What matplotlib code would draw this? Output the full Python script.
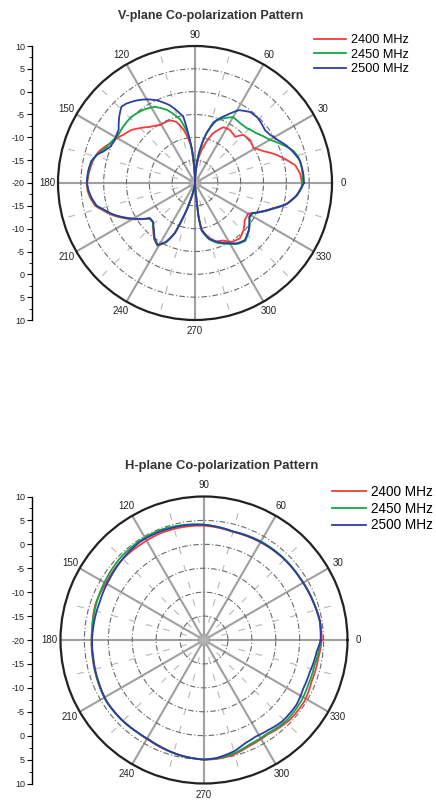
import numpy as np
import matplotlib
matplotlib.use('Agg')
import matplotlib.pyplot as plt

plt.rcParams['font.family'] = ['Liberation Sans', 'DejaVu Sans']

# ---- data (angle in deg, gain in dB) ----
labels = ['2400 MHz', '2450 MHz', '2500 MHz']
colors = ['#F23C3C', '#12A845', '#2E3DA3']

# V-plane
v_red_ang = [0, 5, 10, 14, 19, 25, 31, 38, 45, 49, 57, 63, 70, 77, 82, 86, 89, 92, 96,
             102, 107, 112, 121, 129, 135, 140, 146, 150, 155, 159, 162, 167, 174, 180,
             184, 188, 193, 196, 201, 207, 213, 218, 223, 229, 234, 239, 244, 248, 251,
             255, 260, 266, 272, 275, 276, 278, 284, 290, 296, 302, 309, 316, 323, 330,
             336, 342, 347, 353, 358, 360]
v_red_db = [3.4, 3.1, 2.3, 0.7, -1.1, -3.5, -5.1, -4.7, -5.1, -6.6, -6.1, -6.3, -8.4, -11.8,
            -14.5, -18, -20, -19, -12, -8.1, -6.0, -5.2, -5.2, -4.2, -3.0, -1.9, -1.1, -0.3,
            0.5, 1.5, 2.2, 2.8, 3.3, 3.6,
            3.6, 3.2, 2.4, 1.2, -0.5, -2.9, -5.4, -7.4, -7.4, -6.1, -4.8, -4.0, -5.6, -8.1,
            -12.0, -16, -19, -20, -20, -17, -13, -9.8, -7.7, -6.4, -6.0, -4.8, -4.4, -5.2,
            -6.4, -6.6, -4.5, -2.1, 0.5, 2.4, 3.4, 3.4]

v_green_ang = [0, 8, 14, 18, 23, 30, 39, 47, 53, 60, 66, 73, 79, 83, 87, 90, 93, 97, 103,
               111, 118, 125, 134, 142, 148, 152, 158, 163, 168, 174, 180,
               184, 188, 193, 196, 201, 207, 213, 218, 223, 229, 234, 239, 244, 248, 251,
               255, 260, 266, 272, 275, 276, 278, 284, 290, 298, 305, 311, 319, 328, 332,
               336, 342, 347, 353, 358, 360]
v_green_db = [3.6, 3.6, 3.35, 2.7, 1.1, -1.1, -2.7, -3.5, -3.6, -3.35, -4.5, -6.0, -10.4,
              -14, -18, -20, -17, -10, -5.8, -2.85, -1.1, -0.4, 0.1, 0.0, -0.2, 0.2, 0.9,
              2.1, 3.1, 3.5, 3.7,
              3.4, 3.0, 2.2, 1.0, -0.7, -3.1, -5.5, -7.4, -7.4, -6.2, -4.9, -4.1, -5.6,
              -8.1, -12.0, -16, -19, -20, -20, -17, -12.4, -9.4, -7.3, -6.1, -4.9, -3.7,
              -3.2, -4.3, -5.9, -5.8, -4.3, -1.9, 0.6, 2.5, 3.5, 3.6]

v_blue_ang = [0, 5, 12, 16, 22, 27, 33, 37, 46, 52, 59, 65, 71, 77, 82, 86, 89, 92, 94, 97,
              100, 108, 115, 120, 125, 131, 134, 139, 145, 152, 157, 161, 164, 168, 173, 180,
              184, 188, 193, 196, 201, 207, 213, 218, 223, 229, 234, 239, 244, 248, 251,
              255, 260, 266, 272, 275, 276, 278, 284, 290, 298, 305, 311, 319, 328, 332,
              336, 342, 347, 353, 358, 360]
v_blue_db = [3.87, 3.8, 3.5, 2.8, 1.7, 0.5, -0.5, -0.8, -0.2, -0.3, -1.4, -3.6, -5.4, -8.8,
             -13, -17, -20, -18, -14, -10.5, -5.3, -2.1, 0.0, 1.15, 2.1, 3.0, 3.2, 2.0, 0.4,
             -0.1, 0.2, 1.2, 2.4, 3.2, 3.5, 3.7,
             3.4, 2.9, 2.1, 0.9, -0.8, -3.2, -5.6, -7.5, -7.5, -6.3, -5.0, -4.2, -5.7, -8.2,
             -12.2, -16, -19, -20, -20, -17, -12.6, -9.6, -7.5, -6.3, -5.1, -3.9, -3.4,
             -4.4, -6.0, -5.9, -4.45, -2.0, 0.56, 2.4, 3.4, 3.87]

# H-plane
h_red_ang = [0, 9, 19, 33, 46, 60, 75, 90, 99, 112, 124, 136, 149, 162, 174, 180, 189, 201,
             212, 223, 234, 241, 248, 258, 270, 276, 284, 293, 304, 317, 329, 339, 351, 360]
h_red_db = [4.6, 4.6, 4.2, 3.9, 3.8, 3.6, 3.4, 3.9, 4.0, 4.1, 3.95, 4.0, 3.7, 3.9, 3.5,
            3.5, 3.6, 3.8, 4.1, 4.0, 3.8, 3.9, 4.2, 4.6, 5.0, 5.0, 4.8, 4.1, 3.8, 4.5,
            4.6, 4.1, 4.2, 4.6]

h_green_ang = [0, 9, 19, 33, 46, 60, 75, 90, 99, 112, 124, 136, 148, 160, 174, 180, 189, 201,
               212, 223, 234, 241, 248, 258, 270, 276, 285, 294, 304, 316, 328, 337, 347,
               358, 360]
h_green_db = [4.4, 4.5, 4.2, 3.9, 3.9, 3.8, 3.5, 4.1, 4.4, 4.77, 4.7, 4.5, 4.1, 3.8, 3.5,
              3.5, 3.5, 3.8, 4.1, 4.0, 3.8, 3.8, 4.1, 4.6, 5.0, 4.9, 4.5, 3.8, 3.6, 4.1,
              4.0, 3.7, 3.7, 4.3, 4.4]

h_blue_ang = [0, 9, 19, 33, 46, 60, 75, 90, 99, 112, 123, 135, 147, 160, 174, 180, 189, 201,
              212, 223, 234, 241, 248, 258, 270, 276, 285, 292, 298, 305, 314, 325, 334,
              343, 354, 360]
h_blue_db = [4.4, 4.55, 4.2, 3.85, 3.8, 3.66, 3.46, 4.1, 4.3, 4.45, 4.5, 4.0, 3.5, 3.2,
             3.3, 3.4, 3.44, 3.7, 4.05, 3.96, 3.8, 3.8, 4.1, 4.6, 5.0, 4.8, 4.1, 3.2, 2.9,
             3.1, 3.6, 3.6, 3.1, 3.1, 3.67, 4.4]

v_series = [(v_red_ang, v_red_db), (v_green_ang, v_green_db), (v_blue_ang, v_blue_db)]
h_series = [(h_red_ang, h_red_db), (h_green_ang, h_green_db), (h_blue_ang, h_blue_db)]

r_min, r_max = -20, 10
W, H = 436, 801


def draw_pattern(fig, box, left_x, series, title, title_xy, title_fs, leg_xy, leg_fs):
    # box = (left, top, size) in pixels
    l, t, s = box
    ax = fig.add_axes([l / W, 1 - (t + s) / H, s / W, s / H], projection='polar')
    for (ang, db), c, lab in zip(series, colors, labels):
        line, = ax.plot(np.deg2rad(ang), np.clip(db, r_min, r_max), color=c, lw=1.3,
                        label=lab)
        # let the polar transform draw each segment as an arc, not a chord
        line.get_path()._interpolation_steps = 40
    ax.set_ylim(r_min, r_max)
    ax.set_yticks([-15, -10, -5, 0, 5])
    ax.set_yticklabels([])
    ax.yaxis.grid(True, color='#6a6a6a', lw=0.8, linestyle=(0, (5, 2, 1, 2)))
    ax.set_xticks(np.deg2rad(np.arange(0, 360, 30)))
    ax.set_xticklabels([str(a) for a in range(0, 360, 30)], fontsize=7, color='#222222')
    ax.set_xticks(np.deg2rad(np.arange(15, 360, 30)), minor=True)
    ax.xaxis.grid(True, which='major', color='#a0a0a0', lw=1.5, linestyle='-')
    ax.xaxis.grid(True, which='minor', color='#b8b8b8', lw=0.8, linestyle=(0, (6, 10)))
    ax.tick_params(axis='x', pad=1, length=0)
    ax.tick_params(axis='x', which='minor', length=0)
    ax.spines['polar'].set_color('#222222')
    ax.spines['polar'].set_linewidth(1.6)
    ax.set_axisbelow(True)

    # left linear scale (10 ... -20 ... 10)
    axl = fig.add_axes([left_x / W, 1 - (t + s) / H, 0.001, s / H])
    axl.set_ylim(-30, 30)
    ticks = np.arange(-30, 31, 5)
    axl.set_yticks(ticks)
    axl.set_yticklabels([str(abs(v) - 20) for v in ticks], fontsize=6.5, color='#222222')
    axl.set_yticks(np.arange(-27.5, 30, 5), minor=True)
    axl.tick_params(axis='y', which='major', length=3.5, width=0.8, pad=1.5)
    axl.tick_params(axis='y', which='minor', length=2, width=0.6)
    axl.set_xticks([])
    for side in ['top', 'right', 'bottom']:
        axl.spines[side].set_visible(False)
    axl.spines['left'].set_linewidth(1.0)
    axl.patch.set_alpha(0)

    fig.text(title_xy[0] / W, 1 - title_xy[1] / H, title, ha='center', va='center',
             fontsize=title_fs, fontweight='bold', color='#333333')
    h, lb = ax.get_legend_handles_labels()
    fig.legend(h, lb, loc='upper left', bbox_to_anchor=(leg_xy[0] / W, 1 - leg_xy[1] / H),
               frameon=False, fontsize=leg_fs, handlelength=2.5, handletextpad=0.4,
               labelspacing=0.2, borderpad=0, borderaxespad=0)
    return ax


fig = plt.figure(figsize=(W / 100, H / 100), dpi=100)
fig.patch.set_facecolor('white')

draw_pattern(fig, (58, 46, 274), 32, v_series, 'V-plane Co-polarization Pattern',
             (211, 16), 9, (314, 34), 9.2)
draw_pattern(fig, (60.5, 496.5, 287), 32, h_series, 'H-plane Co-polarization Pattern',
             (222, 466), 9.4, (332, 485), 9.8)

fig.savefig('out.png', dpi=100)
